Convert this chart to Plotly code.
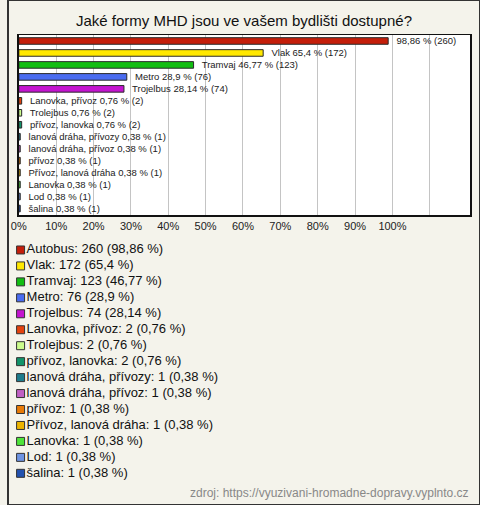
import plotly.graph_objects as go

categories = ["Autobus", "Vlak", "Tramvaj", "Metro", "Trojelbus", "Lanovka, přívoz",
              "Trolejbus", "přívoz, lanovka", "lanová dráha, přívozy", "lanová dráha, přívoz",
              "přívoz", "Přívoz, lanová dráha", "Lanovka", "Lod", "šalina"]
counts = [260, 172, 123, 76, 74, 2, 2, 2, 1, 1, 1, 1, 1, 1, 1]
percents = [98.86, 65.4, 46.77, 28.9, 28.14, 0.76, 0.76, 0.76, 0.38, 0.38, 0.38, 0.38, 0.38, 0.38, 0.38]
colors = ["#c41e0a", "#ffe800", "#12be12", "#4a6cf0", "#c414d0", "#e4420e", "#ccfc8c",
          "#12946a", "#1e7c8c", "#c060c4", "#e87a06", "#ecb400", "#4ee43a", "#6e94e2", "#2352b0"]
tick_vals = [0, 10, 20, 30, 40, 50, 60, 70, 80, 90, 100, 110]
tick_text = ["0%", "10%", "20%", "30%", "40%", "50%", "60%", "70%", "80%", "90%", "100%", ""]

BG = "#f4f3eb"

def fmt(v):
    s = ("%g" % v).replace(".", ",")
    return s

idx = list(range(len(categories)))
bar_text = []
for i, (c, n, p) in enumerate(zip(categories, counts, percents)):
    if i == 0:
        bar_text.append(f"  {fmt(p)} % ({n})")
    else:
        bar_text.append(f"  {c} {fmt(p)} % ({n})")
legend_text = [f"{c}: {n} ({fmt(p)} %)" for c, n, p in zip(categories, counts, percents)]

fig = go.Figure()
fig.add_trace(go.Bar(
    x=percents, y=idx, orientation="h", width=0.55,
    marker=dict(color=colors, line=dict(color="#2a2a2a", width=1)),
    text=bar_text, textposition="outside", cliponaxis=False, constraintext="none",
    textfont=dict(family="Arial", size=9.5, color="#222"),
    showlegend=False, hoverinfo="skip",
))
fig.add_trace(go.Scatter(
    x=[0] * len(categories), y=idx, xaxis="x2", yaxis="y2",
    mode="markers+text", text=legend_text, textposition="middle right",
    marker=dict(symbol="square", size=8, color=colors, line=dict(color="#333", width=1)),
    textfont=dict(family="Arial", size=13, color="#111"),
    showlegend=False, hoverinfo="skip", cliponaxis=False,
))

fig.update_layout(
    width=480, height=505,
    margin=dict(l=0, r=0, t=0, b=0),
    paper_bgcolor=BG, plot_bgcolor=BG,
    xaxis=dict(domain=[11 / 480, 470 / 480], range=[0, 120.8],
               tickvals=tick_vals, ticktext=tick_text, showgrid=True,
               gridcolor="#c4c4c4", gridwidth=1, zeroline=False,
               showline=True, mirror=True, linecolor="#111", linewidth=1.5,
               tickfont=dict(family="Arial", size=11, color="#222"), ticks="",
               layer="above traces"),
    yaxis=dict(domain=[1 - 215 / 505, 1 - 35 / 505], range=[14.54, -0.5],
               showticklabels=False, showgrid=False, zeroline=False,
               showline=True, mirror=True, linecolor="#111", linewidth=1.5, ticks=""),
    xaxis2=dict(domain=[0, 1], range=[-12.8, 467.2], visible=False, anchor="y2"),
    yaxis2=dict(domain=[1 - 481.3 / 505, 1 - 242 / 505], range=[14.5, -0.5],
                visible=False, anchor="x2"),
    shapes=[
        dict(type="rect", xref="x domain", yref="y domain", x0=0, y0=0, x1=1, y1=1,
             fillcolor="#ffffff", line=dict(width=0), layer="below"),
        dict(type="rect", xref="paper", yref="paper", x0=0, y0=0, x1=1, y1=1,
             line=dict(color="#333", width=2), fillcolor="rgba(0,0,0,0)"),
    ],
    annotations=[
        dict(text="Jaké formy MHD jsou ve vašem bydlišti dostupné?", xref="paper", yref="paper",
             x=0.5, y=1 - 20 / 505, xanchor="center", yanchor="middle", showarrow=False,
             font=dict(family="Arial", size=15, color="#111")),
        dict(text="zdroj: https://vyuzivani-hromadne-dopravy.vyplnto.cz", xref="paper", yref="paper",
             x=471 / 480, y=1 - 493 / 505, xanchor="right", yanchor="middle", showarrow=False,
             font=dict(family="Arial", size=12, color="#888")),
    ],
)

post = (
    "document.documentElement.style.margin='0';"
    "document.body.style.margin='0';document.body.style.padding='0';"
    "document.body.style.overflow='hidden';"
    "var gd=document.getElementById('{plot_id}');"
    "var p=gd.parentElement;p.style.position='absolute';p.style.left='0px';p.style.top='0px';"
    "p.style.margin='0';"
)
fig.write_html("out.html", config={"displayModeBar": False, "staticPlot": True}, post_script=post)
